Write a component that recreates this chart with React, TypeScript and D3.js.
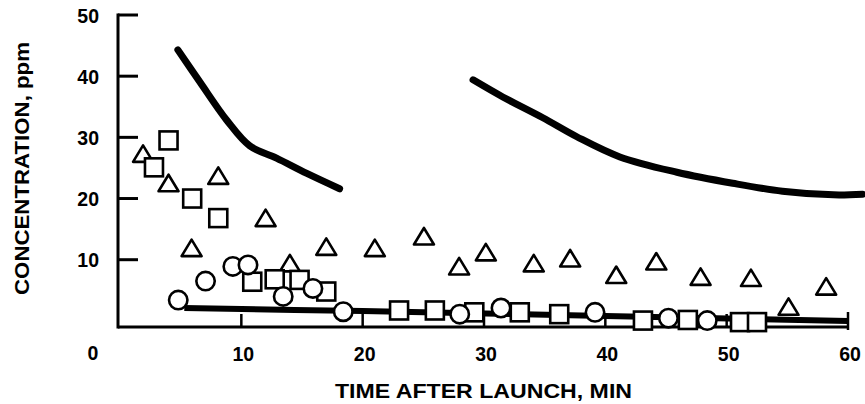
import * as d3 from "d3";

// readings (minutes after launch, ppm)
const triangles: [number, number][] = [
  [1.9, 27.3], [4.0, 22.5], [8.1, 23.7], [5.9, 11.9], [12.0, 16.8], [14.0, 9.4],
  [17.0, 12.1], [21.0, 11.9], [25.05, 13.8], [27.95, 8.9], [30.15, 11.2], [34.1, 9.4],
  [37.1, 10.2], [40.9, 7.5], [44.2, 9.7], [47.85, 7.2], [52.0, 7.0], [55.1, 2.3], [58.2, 5.6]
];
const squares: [number, number][] = [
  [4.0, 29.5], [2.8, 25.1], [5.95, 20.0], [8.1, 16.8], [10.9, 6.4], [12.75, 6.8],
  [14.8, 6.7], [17.0, 4.8], [23.0, 1.7], [25.95, 1.7], [29.2, 1.4], [32.95, 1.4],
  [36.2, 1.1], [43.1, 0.05], [46.8, 0.15], [51.1, -0.2], [52.5, -0.2]
];
const circles: [number, number][] = [
  [4.8, 3.4], [7.05, 6.5], [9.3, 8.9], [10.55, 9.15], [13.45, 4.0], [15.9, 5.3],
  [18.4, 1.5], [28.0, 1.1], [31.4, 2.1], [39.15, 1.4], [45.2, 0.45], [48.4, 0.05]
];
const upperEarly: [number, number][] = [
  [4.77, 44.3], [6.6, 39.0], [8.8, 32.8], [10.7, 28.6], [12.9, 26.6], [15.4, 24.1], [18.1, 21.6]
];
const upperLate: [number, number][] = [
  [29.1, 39.4], [31.55, 36.6], [34.85, 33.2], [37.65, 30.1], [41.2, 26.8], [45.9, 24.3],
  [50.5, 22.5], [54.6, 21.2], [58.8, 20.6], [61.2, 20.7]
];
const lowerLine: [number, number][] = [[5.3, 2.1], [20, 1.6], [40, 0.8], [60, 0.0]];
const xTicks = [10, 20, 30, 40, 50, 60];
const yTicks = [10, 20, 30, 40, 50];

const width = 865;
const height = 404;
const font = "'Liberation Sans', Arial, Helvetica, sans-serif";

export default function App() {
  const x = d3.scaleLinear([0, 60], [120, 848]);
  const y = d3.scaleLinear([-1, 50], [327, 15]);
  const axisY = y(-1);
  const axisX = x(0) - 2;
  const line = d3
    .line<[number, number]>()
    .x((d) => x(d[0]))
    .y((d) => y(d[1]))
    .curve(d3.curveCatmullRom);
  const marker = { fill: "#fff", stroke: "#000", strokeWidth: 2.6 };

  return (
    <svg
      width={width}
      height={height}
      viewBox={`0 0 ${width} ${height}`}
      style={{ position: "absolute", left: 0, top: 0, background: "#fff" }}
      fontFamily={font}
      fontWeight="bold"
    >
      {/* axes */}
      <line x1={axisX} x2={axisX} y1={y(50) - 1.5} y2={axisY + 1.5} stroke="#000" strokeWidth={3} />
      <line x1={axisX} x2={x(60)} y1={axisY} y2={axisY} stroke="#000" strokeWidth={3} />
      {yTicks.map((t) => (
        <g key={t}>
          <line x1={axisX} x2={axisX + 20} y1={y(t)} y2={y(t)} stroke="#000" strokeWidth={3} />
          <text x={99} y={y(t) + 7.5} textAnchor="end" fontSize={19.5}>
            {t}
          </text>
        </g>
      ))}
      {xTicks.map((t) => (
        <g key={t}>
          <line x1={x(t)} x2={x(t)} y1={axisY - (t === 60 ? 15 : 13)} y2={axisY + (t === 60 ? 3 : 0)} stroke="#000" strokeWidth={2.5} />
          <text x={x(t) + 2} y={361} textAnchor="middle" fontSize={19.5}>
            {t}
          </text>
        </g>
      ))}
      <text x={x(0) - 27} y={360} textAnchor="middle" fontSize={19.5}>
        0
      </text>
      <text
        x={483.5}
        y={398}
        textAnchor="middle"
        fontSize={21}
        textLength={297}
        lengthAdjust="spacingAndGlyphs"
      >
        TIME AFTER LAUNCH, MIN
      </text>
      <text
        transform="translate(28.5,168.5) rotate(-90)"
        textAnchor="middle"
        fontSize={21}
        textLength={253}
        lengthAdjust="spacingAndGlyphs"
      >
        CONCENTRATION, ppm
      </text>

      {/* thick curves */}
      {[upperEarly, upperLate].map((pts, i) => (
        <path key={i} d={line(pts) ?? undefined} fill="none" stroke="#000" strokeWidth={7} strokeLinecap="round" />
      ))}
      <path d={line(lowerLine) ?? undefined} fill="none" stroke="#000" strokeWidth={6} strokeLinecap="butt" />

      {/* data markers */}
      {triangles.map((d, i) => (
        <path
          key={`t${i}`}
          transform={`translate(${x(d[0])},${y(d[1])})`}
          d="M0,-8.5L10,8L-10,8Z"
          strokeLinejoin="round"
          {...marker}
        />
      ))}
      {squares.map((d, i) => (
        <rect key={`s${i}`} x={x(d[0]) - 9} y={y(d[1]) - 9} width={18} height={18} {...marker} />
      ))}
      {circles.map((d, i) => (
        <circle key={`c${i}`} cx={x(d[0])} cy={y(d[1])} r={9.2} {...marker} />
      ))}
    </svg>
  );
}
